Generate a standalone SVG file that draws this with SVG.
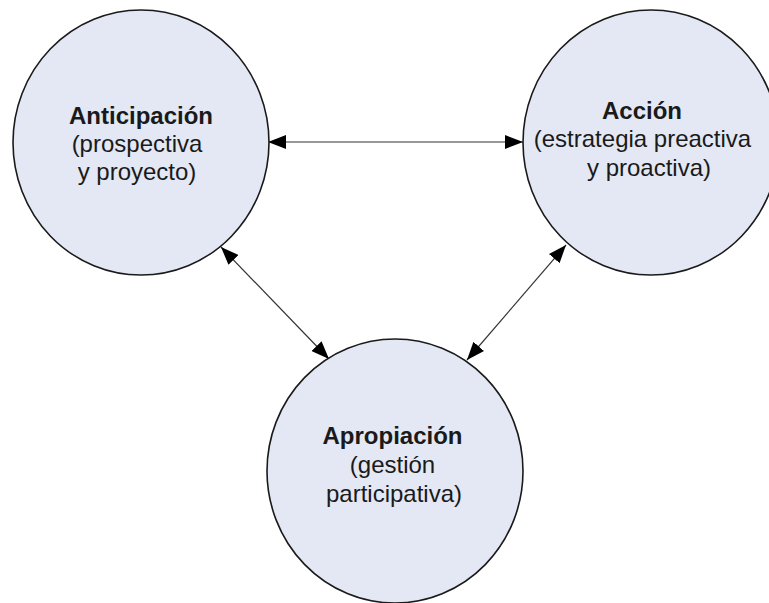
<svg xmlns="http://www.w3.org/2000/svg" width="769" height="603" viewBox="0 0 769 603">
<style>
.node{fill:#E4E8F4;stroke:#1a1a1a;stroke-width:1.6}
.t{font-family:"Liberation Sans",Arial,sans-serif;font-size:24px;fill:#1a1a1a;text-anchor:middle}
.b{font-weight:bold}
.c{stroke:#333;stroke-width:1.2;fill:none;marker-start:url(#ah);marker-end:url(#ah)}
</style>
<defs>
<marker id="ah" markerUnits="userSpaceOnUse" markerWidth="18" markerHeight="14" refX="18" refY="7" orient="auto-start-reverse" viewBox="0 0 18 14">
<path d="M0,0 L18,7 L0,14 z" fill="#000"/>
</marker>
</defs>
<rect width="769" height="603" fill="#fff"/>
<g id="connectors">
<line class="c" x1="268" y1="142" x2="523" y2="142"/>
<line class="c" x1="221" y1="247" x2="329" y2="359"/>
<line class="c" x1="566" y1="245" x2="467" y2="360"/>
</g>
<g id="anticipacion">
<ellipse class="node" cx="141" cy="142.5" rx="128" ry="132.5"/>
<text class="t b" x="141" y="124">Anticipación</text>
<text class="t" x="137" y="152">(prospectiva</text>
<text class="t" x="137" y="180">y proyecto)</text>
</g>
<g id="accion">
<ellipse class="node" cx="651" cy="142.5" rx="128" ry="132.5"/>
<text class="t b" x="642" y="119">Acción</text>
<text class="t" x="642.5" y="147">(estrategia preactiva</text>
<text class="t" x="649" y="176">y proactiva)</text>
</g>
<g id="apropiacion">
<ellipse class="node" cx="395" cy="471" rx="128" ry="132"/>
<text class="t b" x="392.5" y="444">Apropiación</text>
<text class="t" x="392.5" y="473">(gestión</text>
<text class="t" x="394" y="502">participativa)</text>
</g>
</svg>
